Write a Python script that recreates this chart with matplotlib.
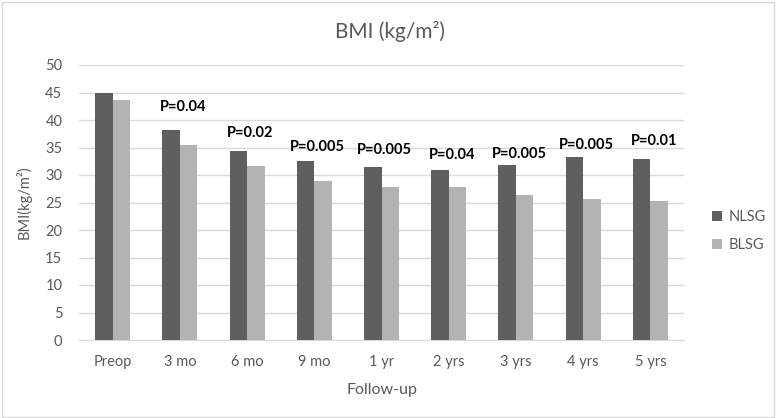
import matplotlib
matplotlib.use('Agg')
import matplotlib.pyplot as plt
import numpy as np
from matplotlib.patches import Rectangle

plt.rcParams['font.family'] = ['Lato', 'DejaVu Sans']

# data
categories = ['Preop', '3 mo', '6 mo', '9 mo', '1 yr', '2 yrs', '3 yrs', '4 yrs', '5 yrs']
nlsg = [44.9, 38.1, 34.4, 32.5, 31.5, 30.9, 31.8, 33.2, 33.0]
blsg = [43.6, 35.5, 31.6, 28.9, 27.8, 27.9, 26.4, 25.6, 25.3]
p_labels = ['', 'P=0.04', 'P=0.02', 'P=0.005', 'P=0.005', 'P=0.04', 'P=0.005', 'P=0.005', 'P=0.01']
p_label_y = [0, 42.4, 37.7, 35.1, 34.5, 33.6, 33.9, 35.5, 36.2]

text_col = '#595959'

fig = plt.figure(figsize=(7.77, 4.18), dpi=100)
ax = fig.add_axes([79 / 777, 1 - 340 / 418, (684 - 79) / 777, 275 / 418])

x = np.arange(len(categories))
w = 0.26
ax.bar(x - w / 2, nlsg, w, color='#5f5f5f', label='NLSG', zorder=3)
ax.bar(x + w / 2, blsg, w, color='#b3b3b3', label='BLSG', zorder=3)

for xi, lab, yy in zip(x, p_labels, p_label_y):
    if lab:
        ax.text(xi + 0.05, yy, lab, ha='center', va='center', fontsize=10.5,
                fontweight='bold', color='black')

ax.set_xlim(-0.5, len(categories) - 0.5)
ax.set_ylim(0, 50)
ax.set_yticks(range(0, 51, 5))
ax.set_xticks(x)
ax.set_xticklabels(categories)
ax.yaxis.grid(True, color='#d9d9d9', linewidth=1, zorder=0)
for s in ['top', 'right', 'left']:
    ax.spines[s].set_visible(False)
ax.spines['bottom'].set_color('#d9d9d9')
ax.tick_params(length=0, labelsize=10.5, labelcolor=text_col)
ax.tick_params(axis='x', pad=11)
ax.tick_params(axis='y', pad=12)

ax.set_xlabel('Follow-up', fontsize=11.5, color=text_col, labelpad=10)
ax.set_ylabel('BMI(kg/m²)', fontsize=10.5, color=text_col, labelpad=10)

fig.text(390 / 777, 1 - 32 / 418, 'BMI (kg/m²)', ha='center', va='center',
         fontsize=15, color=text_col)

leg = ax.legend(loc='center left', bbox_to_anchor=(1.025, 0.396), frameon=False,
                fontsize=10.5, handlelength=0.7, handleheight=0.7,
                handletextpad=0.4, labelspacing=1.0)
for t in leg.get_texts():
    t.set_color(text_col)

fig.patches.append(Rectangle((0.002, 0.003), 0.994, 0.992, transform=fig.transFigure,
                             fill=False, edgecolor='#d9d9d9', linewidth=1))

fig.savefig('out.png', dpi=100)
